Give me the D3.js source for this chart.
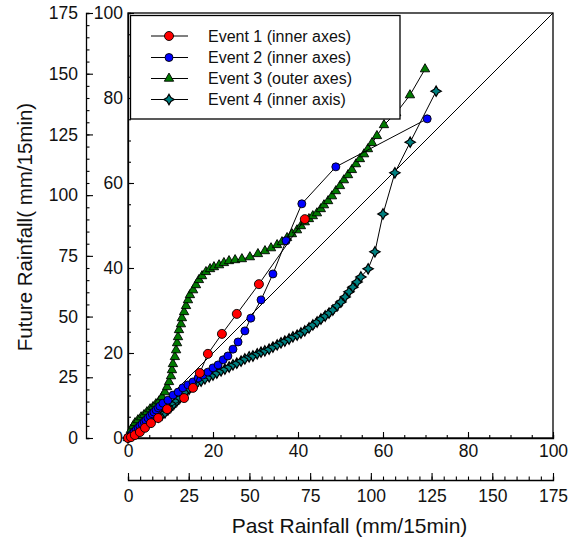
<!DOCTYPE html>
<html><head><meta charset="utf-8">
<script src="https://cdn.jsdelivr.net/npm/d3@7"></script>
<style>body{margin:0;background:#fff}svg{display:block}text{font-family:"Liberation Sans",Arial,sans-serif}</style>
</head><body><div id="chart"></div>
<script>
// ---- data ----
const seriesNames = ["Event 1 (inner axes)","Event 2 (inner axes)","Event 3 (outer axes)","Event 4 (inner axis)"];
const innerTicks = [0,20,40,60,80,100];
const outerTicks = [0,25,50,75,100,125,150,175];
const diagonal = [[0,0],[100,100]];

const e1x = [0,0.7,1.6,2.8,4.0,5.4,7.1,9.2,13.2,15.3,16.9,18.8,22.1,25.6,30.8,41.6];
const e1y = [0,0.2,0.7,1.4,2.4,3.5,4.7,6.8,9.4,11.8,15.3,19.8,24.5,29.2,36.2,51.5];

const e2x = [0,0.5,0.9,1.4,1.9,2.4,2.8,3.3,3.8,4.2,4.7,5.2,5.7,6.1,6.6,7.1,7.5,8.2,9.4,10.6,11.8,12.9,14.1,15.3,16.5,17.6,18.8,20.0,21.2,22.4,23.5,24.7,25.9,27.5,28.9,31.3,34.1,37.2,40.9,48.9,70.4];
const e2y = [0,0.5,0.9,1.4,1.9,2.4,2.8,3.3,3.8,4.2,4.7,5.2,5.7,6.1,6.6,7.1,7.5,8.2,8.9,10.1,10.8,11.8,12.5,13.2,14.1,14.8,15.5,16.5,17.2,18.4,19.3,20.9,22.6,25.2,28.2,32.5,38.6,46.4,55.1,63.8,75.1];

const e3x = [0,0.8,1.2,2.1,2.9,4.1,5.4,6.6,7.8,9.1,10.3,11.5,12.8,14.0,15.2,16.1,16.9,17.7,18.1,18.5,19.3,19.8,20.2,20.6,21.0,21.8,22.2,23.1,23.9,24.7,25.5,26.8,28.0,29.2,30.5,32.1,33.8,35.4,37.5,39.5,41.6,44.1,46.9,50.2,53.5,56.4,58.9,61.4,63.4,65.5,67.5,69.6,71.2,72.8,74.5,76.1,77.8,79.4,80.7,82.4,84.0,85.6,87.3,88.9,90.6,92.2,93.9,95.5,97.2,98.8,100.5,102.5,105.4,110.4,116.1,122.3];
const e3y = [0,1.6,3.3,4.9,6.2,7.4,8.6,9.5,10.7,11.9,12.8,14.0,15.2,16.9,18.9,21.0,23.1,25.5,28.0,30.5,33.4,36.2,39.1,41.6,44.5,46.9,49.4,51.9,54.4,56.8,58.9,60.9,63.0,65.1,66.7,68.4,69.6,70.4,71.2,72.1,72.9,73.3,73.7,74.5,75.8,77.0,78.2,79.5,80.7,82.4,84.0,85.6,87.3,88.9,90.2,91.4,92.6,94.3,95.9,97.6,99.6,101.7,103.8,106.2,108.3,110.4,112.8,114.9,116.9,119.0,121.5,124.4,128.9,133.8,141.2,151.9];

const e4x = [0,0.5,1.2,1.9,2.6,3.3,4.2,5.2,6.1,7.1,8.0,8.7,9.4,10.1,10.8,11.5,12.2,12.9,13.6,14.4,15.3,16.2,17.2,18.1,19.1,20.0,20.9,21.9,22.8,23.8,24.7,25.6,26.6,27.5,28.5,29.4,30.4,31.3,32.2,33.2,34.1,35.1,36.0,36.9,37.9,38.8,39.8,40.7,41.6,42.6,43.5,44.5,45.4,46.4,47.3,48.2,49.2,50.1,51.1,52.0,52.9,53.9,54.8,56.5,58.1,60.0,62.8,66.4,72.5];
const e4y = [0,0.7,1.4,2.1,2.6,3.1,3.5,4.0,4.5,4.9,5.4,5.9,6.6,7.3,8.0,8.7,9.4,10.1,10.8,11.5,12.2,12.9,13.4,13.9,14.4,14.8,15.3,15.8,16.2,16.7,17.2,17.6,18.1,18.6,19.1,19.3,19.8,20.2,20.5,20.9,21.4,21.9,22.4,22.8,23.3,23.8,24.2,24.7,25.2,25.9,26.6,27.3,28.0,28.7,29.4,30.1,31.1,32.0,33.2,34.4,35.5,36.7,37.9,39.8,43.8,52.7,62.4,69.6,81.6];

// ---- layout ----
const W = 578, H = 539;
const L = 128, R = 553, T = 13, B = 438;
const svg = d3.select("#chart").append("svg").attr("width", W).attr("height", H);

const xi = d3.scaleLinear().domain([0,100]).range([L,R]);
const yi = d3.scaleLinear().domain([0,100]).range([B,T]);
const xo = d3.scaleLinear().domain([0,175]).range([L,R]);
const yo = d3.scaleLinear().domain([0,175]).range([B,T]);

const fs = 17.5;
function styleAxis(g){
  g.selectAll("path.domain").attr("stroke","#000").attr("stroke-width",1.3);
  g.selectAll(".tick line").attr("stroke","#000").attr("stroke-width",1.1);
  g.selectAll("text").attr("font-size",fs).attr("fill","#111").style("font-family","'Liberation Sans',Arial,sans-serif");
}
function minor(dom, step){ const a=[]; for(let v=dom[0]; v<=dom[1]+1e-9; v+=step) a.push(v); return a; }

// inner bottom axis (ticks inward)
const gxi = svg.append("g").attr("transform",`translate(0,${B})`);
gxi.call(d3.axisBottom(xi).tickValues(minor([0,100],5)).tickSize(-3).tickFormat("")).call(styleAxis);
const gxi2 = svg.append("g").attr("transform",`translate(0,${B})`);
gxi2.call(d3.axisBottom(xi).tickValues(innerTicks).tickSizeInner(-6).tickSizeOuter(0).tickPadding(7).tickFormat(d3.format("d"))).call(styleAxis);
gxi2.select("path.domain").remove();

// inner left axis
const gyi = svg.append("g").attr("transform",`translate(${L},0)`);
gyi.call(d3.axisLeft(yi).tickValues(minor([0,100],5)).tickSize(-3).tickFormat("")).call(styleAxis);
const gyi2 = svg.append("g").attr("transform",`translate(${L},0)`);
gyi2.call(d3.axisLeft(yi).tickValues(innerTicks).tickSizeInner(-6).tickSizeOuter(0).tickPadding(5).tickFormat(d3.format("d"))).call(styleAxis);
gyi2.select("path.domain").remove();

// outer bottom axis
const OB = 480;
const gxo = svg.append("g").attr("transform",`translate(0,${OB})`);
gxo.call(d3.axisBottom(xo).tickValues(minor([0,175],5)).tickSize(-3.5).tickFormat("")).call(styleAxis);
const gxo2 = svg.append("g").attr("transform",`translate(0,${OB})`);
gxo2.call(d3.axisBottom(xo).tickValues(outerTicks).tickSizeInner(-7).tickSizeOuter(0).tickPadding(10).tickFormat(d3.format("d"))).call(styleAxis);
gxo2.select("path.domain").remove();

// outer left axis
const OL = 86;
const gyo = svg.append("g").attr("transform",`translate(${OL},0)`);
gyo.call(d3.axisLeft(yo).tickValues(minor([0,175],5)).tickSize(-3.5).tickFormat("")).call(styleAxis);
const gyo2 = svg.append("g").attr("transform",`translate(${OL},0)`);
gyo2.call(d3.axisLeft(yo).tickValues(outerTicks).tickSizeInner(-7).tickSizeOuter(0).tickPadding(8).tickFormat(d3.format("d"))).call(styleAxis);
gyo2.select("path.domain").remove();

// frame
svg.append("rect").attr("x",L).attr("y",T).attr("width",R-L).attr("height",B-T)
  .attr("fill","none").attr("stroke","#000").attr("stroke-width",1.3);

// diagonal
const lineI = d3.line().x(d=>xi(d[0])).y(d=>yi(d[1]));
svg.append("path").attr("d", lineI(diagonal)).attr("stroke","#000").attr("stroke-width",1).attr("fill","none");

// markers
const starPath = (r, ri) => `M0,${-r}L${ri},${-ri}L${r},0L${ri},${ri}L0,${r}L${-ri},${ri}L${-r},0L${-ri},${-ri}Z`;
const markers = [
  g => g.append("circle").attr("r",4.5).attr("fill","#ff0000").attr("stroke","#000").attr("stroke-width",0.9),
  g => g.append("circle").attr("r",4.0).attr("fill","#0000ff").attr("stroke","#000").attr("stroke-width",0.9),
  g => g.append("path").attr("d", d3.symbol(d3.symbolTriangle, 38)()).attr("fill","#007a00").attr("stroke","#000").attr("stroke-width",0.9),
  g => g.append("path").attr("d", starPath(5.2, 1.9)).attr("fill","#008080").attr("stroke","#000").attr("stroke-width",1.2)
];

const series = [
  {x:e1x, y:e1y, sx:xi, sy:yi},
  {x:e2x, y:e2y, sx:xi, sy:yi},
  {x:e3x, y:e3y, sx:xo, sy:yo},
  {x:e4x, y:e4y, sx:xi, sy:yi}
];

[3,2,1,0].forEach(i => {
  const s = series[i];
  const pts = s.x.map((v,k)=>[s.sx(v), s.sy(s.y[k])]);
  const g = svg.append("g");
  g.append("path").attr("d", d3.line()(pts)).attr("fill","none").attr("stroke","#000").attr("stroke-width",1);
  pts.forEach(p => { const m = g.append("g").attr("transform",`translate(${p[0]},${p[1]})`); markers[i](m); });
});

// legend
const lg = svg.append("g");
lg.append("rect").attr("x",130.5).attr("y",15.5).attr("width",269.5).attr("height",103.5)
  .attr("fill","#fff").attr("stroke","#000").attr("stroke-width",1.3);
const rowY = [36, 57.5, 78.5, 99.5];
seriesNames.forEach((name,i) => {
  lg.append("line").attr("x1",151).attr("x2",188).attr("y1",rowY[i]).attr("y2",rowY[i]).attr("stroke","#000").attr("stroke-width",1);
  markers[i](lg.append("g").attr("transform",`translate(169,${rowY[i]})`));
  lg.append("text").attr("x",208).attr("y",rowY[i]+5.5).attr("font-size",16).attr("fill","#111").text(name);
});

// axis titles
svg.append("text").attr("x",349.5).attr("y",533).attr("text-anchor","middle").attr("font-size",21).attr("fill","#111")
  .text("Past Rainfall (mm/15min)");
svg.append("text").attr("transform","translate(32,227) rotate(-90)").attr("text-anchor","middle").attr("font-size",20.5).attr("fill","#111")
  .text("Future Rainfall( mm/15min)");
</script></body></html>
